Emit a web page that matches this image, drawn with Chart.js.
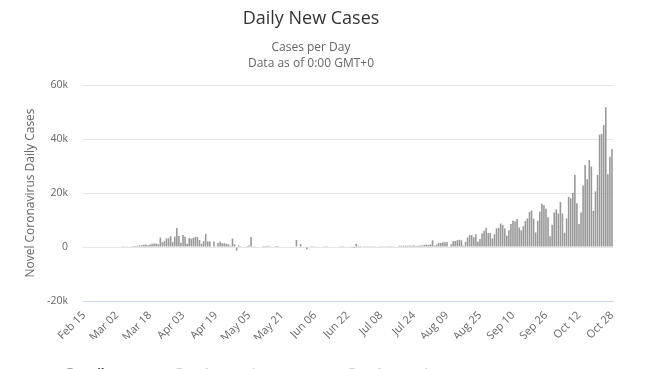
<!DOCTYPE html>
<html lang="en">
<head>
<meta charset="UTF-8" />
<title>Daily New Cases</title>
<style>
  html,body{margin:0;padding:0;background:#fff;overflow:hidden;}
  #wrap{width:630px;height:389px;}
</style>
</head>
<body>
<div id="wrap"><canvas id="chart" width="630" height="389"></canvas></div>
<script src="https://cdn.jsdelivr.net/npm/chart.js@4.4.1/dist/chart.umd.min.js"></script>
<script>
// ---- data ----
const monthNames=['Jan','Feb','Mar','Apr','May','Jun','Jul','Aug','Sep','Oct','Nov','Dec'];
const firstDay='2020-02-15';
const tickLabels=['Feb 15','Mar 02','Mar 18','Apr 03','Apr 19','May 05','May 21','Jun 06','Jun 22','Jul 08','Jul 24','Aug 09','Aug 25','Sep 10','Sep 26','Oct 12','Oct 28'];
const legendLabels=['Daily Cases','3-day moving average','7-day moving average'];
const dailyCases=[
  0,0,0,0,0,0,0,0,0,0,0,0,0,0,0,0,0,0,0,
  70,130,100,200,290,370,
  400,450,600,650,800,900,650,900,1200,1300,1300,1000,3500,
  1800,2200,3200,3200,4000,1800,3800,7000,4100,1600,4400,3800,1200,3300,3100,3400,3800,3700,2600,1200,2200,4900,
  2100,2000,0,2000,300,1500,2000,1400,1400,1200,1000,500,3100,1000,-1300,600,300,200,0,400,600,3700,300,100,
  0,0,0,400,350,450,300,0,0,400,350,0,0,0,0,0,0,0,0,
  2600,200,1100,200,0,-800,0,300,300,300,0,0,0,
  300,300,300,0,0,0,0,0,300,300,300,0,0,300,300,-400,1100,400,400,0,
  300,300,300,300,300,300,0,300,300,300,300,300,300,300,300,0,0,500,500,500,500,
  500,450,500,550,400,500,600,550,800,900,800,1000,
  2500,500,900,1500,1500,1750,1750,1750,200,1000,2100,2200,2500,2700,2500,500,1900,3500,4400,4400,3600,4700,2000,3000,5000,6000,7100,5200,5200,3200,
  4700,6900,7100,8700,8200,6900,4200,6200,8500,9700,9400,10400,7200,6200,7700,9700,10600,13000,13500,10500,5400,9700,13100,16000,15500,14200,11000,4000,
  8200,12800,13900,12400,16700,12400,5300,10600,18600,18000,20000,26800,16200,8500,12800,22800,30400,25100,32200,29800,13400,20600,26700,41600,41900,45200,51800,26900,33400,36300
];

// one category per day
const categories=[];
const d0=new Date(firstDay+'T00:00:00');
for(let i=0;i<dailyCases.length;i++){
  const d=new Date(d0.getFullYear(),d0.getMonth(),d0.getDate()+i);
  categories.push(monthNames[d.getMonth()]+' '+String(d.getDate()).padStart(2,'0'));
}

Chart.defaults.font.family='"Open Sans", "Noto Sans", sans-serif';

// legend: fixed height and nudged right/down, it is mostly cut off at the bottom edge
const legendTweak={id:'legendTweak',beforeLayout(chart){
  const lg=chart.legend;
  if(!lg||lg._tweaked)return;
  const fit=lg.fit, draw=lg.draw;
  lg.fit=function(){fit.call(this);this.height=50;};
  lg.draw=function(){const c=this.ctx;c.save();c.translate(30,4);draw.call(this);c.restore();};
  lg._tweaked=true;
}};

new Chart(document.getElementById('chart'),{
  type:'bar',
  data:{
    labels:categories,
    datasets:[{label:legendLabels[0],data:dailyCases,backgroundColor:'#999999',barPercentage:0.78,categoryPercentage:1}]
  },
  plugins:[legendTweak],
  options:{
    responsive:false,
    animation:false,
    devicePixelRatio:1,
    layout:{padding:{left:9,right:17,top:0,bottom:0}},
    plugins:{
      title:{display:true,text:'Daily New Cases',color:'#333',font:{size:18,weight:'normal'},padding:{top:8,bottom:10}},
      subtitle:{display:true,text:['Cases per Day','Data as of 0:00 GMT+0'],color:'#666',font:{size:12,lineHeight:1.35},padding:{bottom:13}},
      legend:{
        position:'bottom',
        align:'start',
        onClick:null,
        labels:{
          usePointStyle:true,pointStyle:'circle',boxWidth:10,boxHeight:10,padding:26,
          font:{size:12,weight:'bold'},
          generateLabels:()=>legendLabels.map((t,i)=>({
            text:t,fillStyle:i?'#cccccc':'#999999',strokeStyle:i?'#cccccc':'#999999',
            fontColor:i?'#cccccc':'#333333',pointStyle:'circle',hidden:false,datasetIndex:0,lineWidth:0
          }))
        }
      },
      tooltip:{enabled:false}
    },
    scales:{
      x:{
        grid:{display:false},
        border:{display:true,color:'#ccd6eb'},
        afterFit:s=>{s.height=38;},
        ticks:{
          autoSkip:false,maxRotation:45,minRotation:45,color:'#666',font:{size:11},padding:0,
          callback:function(v,i){const l=categories[i];return tickLabels.includes(l)?l:'';}
        }
      },
      y:{
        min:-20000,max:60000,
        grid:{color:'#e6e6e6',drawTicks:false},
        border:{display:false},
        afterFit:s=>{s.width=74;},
        ticks:{stepSize:20000,color:'#666',font:{size:10.5},padding:15,
          callback:v=>v===0?'0':(v/1000)+'k'},
        title:{display:true,text:'Novel Coronavirus Daily Cases',color:'#666',font:{size:12},padding:{top:14,bottom:0}}
      }
    }
  }
});
</script>
</body>
</html>
